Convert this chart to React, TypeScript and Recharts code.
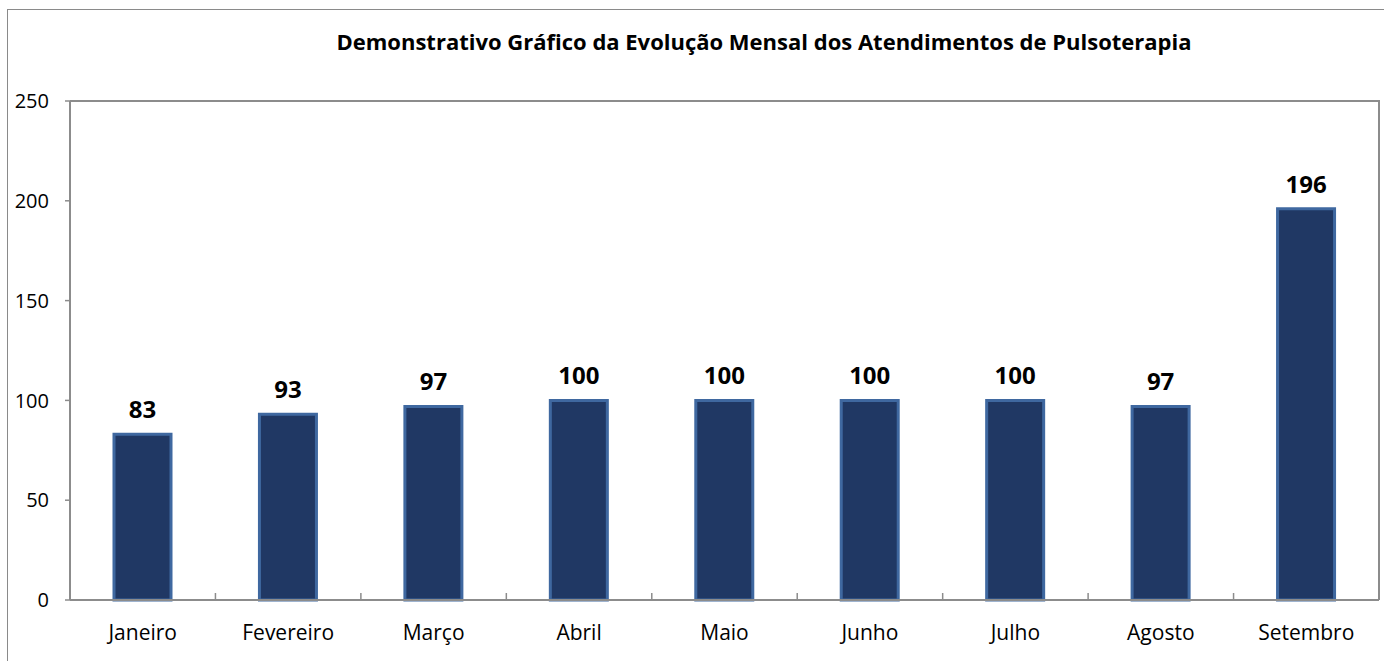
import { Bar, BarChart, LabelList, XAxis, YAxis, usePlotArea } from 'recharts';

const MONTHS = [
  'Janeiro',
  'Fevereiro',
  'Março',
  'Abril',
  'Maio',
  'Junho',
  'Julho',
  'Agosto',
  'Setembro',
];

const ATENDIMENTOS = [83, 93, 97, 100, 100, 100, 100, 97, 196];

const Y_TICKS = [0, 50, 100, 150, 200, 250];

const TITLE = 'Demonstrativo Gráfico da Evolução Mensal dos Atendimentos de Pulsoterapia';

const FONT = '"Open Sans", "Noto Sans", sans-serif';
const AXIS_GRAY = '#8c8c8c';

const chartData = MONTHS.map((m, i) => ({ mes: m, valor: ATENDIMENTOS[i] }));

// plot-area frame (top + right) and boundary ticks pointing up into the plot
function PlotFrame() {
  const area = usePlotArea();
  if (!area) return null;
  const { x: left, y: top, width, height } = area;
  const step = width / MONTHS.length;
  const bottom = top + height;
  return (
    <g>
      <polyline
        points={`${left},${top} ${left + width},${top} ${left + width},${bottom}`}
        fill="none"
        stroke={AXIS_GRAY}
        strokeWidth={2}
      />
      {MONTHS.slice(1).map((_, i) => {
        const x = left + step * (i + 1);
        return <line key={i} x1={x} x2={x} y1={bottom} y2={bottom - 7} stroke={AXIS_GRAY} strokeWidth={1.5} />;
      })}
    </g>
  );
}

export default function App() {
  return (
    <div
      style={{
        position: 'absolute',
        left: 0,
        top: 0,
        width: 1384,
        height: 661,
        background: '#fff',
        overflow: 'hidden',
        fontFamily: FONT,
      }}
    >
      <div
        style={{
          position: 'absolute',
          left: 7,
          top: 9,
          width: 1500,
          height: 800,
          border: '1.5px solid #8a8a8a',
        }}
      />
      <div
        style={{
          position: 'absolute',
          top: 26,
          left: 0,
          width: 1528,
          textAlign: 'center',
          fontWeight: 'bold',
          fontSize: 22,
          lineHeight: '30px',
          color: '#000',
        }}
      >
        {TITLE}
      </div>
      <div style={{ position: 'absolute', left: 0, top: 0 }}>
        <BarChart
          width={1384}
          height={661}
          data={chartData}
          margin={{ top: 101, right: 5, bottom: 0, left: 0 }}
        >
          <XAxis
            dataKey="mes"
            height={61}
            axisLine={{ stroke: AXIS_GRAY, strokeWidth: 2 }}
            tickLine={false}
            tickSize={0}
            tickMargin={25}
            tick={{ fill: '#000', fontSize: 21, fontFamily: FONT }}
            interval={0}
          />
          <YAxis
            width={70}
            domain={[0, 250]}
            ticks={Y_TICKS}
            interval={0}
            axisLine={{ stroke: AXIS_GRAY, strokeWidth: 2 }}
            tickLine={{ stroke: AXIS_GRAY, strokeWidth: 1.5 }}
            tickSize={5}
            tickMargin={16}
            tick={{ fill: '#000', fontSize: 20, fontFamily: FONT }}
          />
          <Bar
            dataKey="valor"
            barSize={57}
            fill="#203864"
            stroke="#3f68a0"
            strokeWidth={3}
            isAnimationActive={false}
          >
            <LabelList
              dataKey="valor"
              position="top"
              offset={16}
              style={{ fill: '#000', fontSize: 24, fontWeight: 'bold', fontFamily: FONT }}
            />
          </Bar>
          <PlotFrame />
        </BarChart>
      </div>
    </div>
  );
}
